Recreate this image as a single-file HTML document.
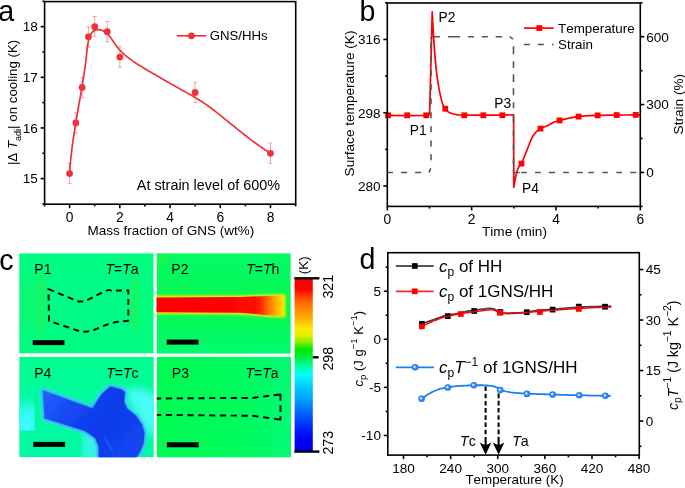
<!DOCTYPE html>
<html><head><meta charset="utf-8"><style>
html,body{margin:0;padding:0;background:#fff;}
svg{display:block;}
.r{will-change:transform;}
text{font-family:"Liberation Sans",sans-serif;fill:#000;font-kerning:none;}
</style></head><body>
<svg class="r" width="685" height="488" viewBox="0 0 685 488" font-family="Liberation Sans, sans-serif">
<rect width="685" height="488" fill="#fff"/>
<line x1="40.60" y1="178.60" x2="44.60" y2="178.60" stroke="#000" stroke-width="1.6" />
<text x="37.90" y="183.40" font-size="13.6" text-anchor="end" >15</text>
<line x1="40.60" y1="127.95" x2="44.60" y2="127.95" stroke="#000" stroke-width="1.6" />
<text x="37.90" y="132.75" font-size="13.6" text-anchor="end" >16</text>
<line x1="40.60" y1="77.30" x2="44.60" y2="77.30" stroke="#000" stroke-width="1.6" />
<text x="37.90" y="82.10" font-size="13.6" text-anchor="end" >17</text>
<line x1="40.60" y1="26.65" x2="44.60" y2="26.65" stroke="#000" stroke-width="1.6" />
<text x="37.90" y="31.45" font-size="13.6" text-anchor="end" >18</text>
<line x1="42.40" y1="203.92" x2="44.60" y2="203.92" stroke="#000" stroke-width="1.6" />
<line x1="42.40" y1="153.28" x2="44.60" y2="153.28" stroke="#000" stroke-width="1.6" />
<line x1="42.40" y1="102.62" x2="44.60" y2="102.62" stroke="#000" stroke-width="1.6" />
<line x1="42.40" y1="51.97" x2="44.60" y2="51.97" stroke="#000" stroke-width="1.6" />
<line x1="42.40" y1="1.32" x2="44.60" y2="1.32" stroke="#000" stroke-width="1.6" />
<line x1="69.60" y1="204.20" x2="69.60" y2="208.20" stroke="#000" stroke-width="1.6" />
<text x="69.60" y="221.50" font-size="13.8" text-anchor="middle" >0</text>
<line x1="119.82" y1="204.20" x2="119.82" y2="208.20" stroke="#000" stroke-width="1.6" />
<text x="119.82" y="221.50" font-size="13.8" text-anchor="middle" >2</text>
<line x1="170.04" y1="204.20" x2="170.04" y2="208.20" stroke="#000" stroke-width="1.6" />
<text x="170.04" y="221.50" font-size="13.8" text-anchor="middle" >4</text>
<line x1="220.26" y1="204.20" x2="220.26" y2="208.20" stroke="#000" stroke-width="1.6" />
<text x="220.26" y="221.50" font-size="13.8" text-anchor="middle" >6</text>
<line x1="270.48" y1="204.20" x2="270.48" y2="208.20" stroke="#000" stroke-width="1.6" />
<text x="270.48" y="221.50" font-size="13.8" text-anchor="middle" >8</text>
<line x1="44.49" y1="204.20" x2="44.49" y2="206.40" stroke="#000" stroke-width="1.6" />
<line x1="94.71" y1="204.20" x2="94.71" y2="206.40" stroke="#000" stroke-width="1.6" />
<line x1="144.93" y1="204.20" x2="144.93" y2="206.40" stroke="#000" stroke-width="1.6" />
<line x1="195.15" y1="204.20" x2="195.15" y2="206.40" stroke="#000" stroke-width="1.6" />
<line x1="245.37" y1="204.20" x2="245.37" y2="206.40" stroke="#000" stroke-width="1.6" />
<line x1="295.59" y1="204.20" x2="295.59" y2="206.40" stroke="#000" stroke-width="1.6" />
<rect x="44.6" y="1.6" width="251.1" height="202.6" fill="none" stroke="#000" stroke-width="1.6"/>
<line x1="69.60" y1="163.41" x2="69.60" y2="183.66" stroke="#f4a3a6" stroke-width="1" />
<line x1="67.60" y1="163.41" x2="71.60" y2="163.41" stroke="#f4a3a6" stroke-width="1" />
<line x1="67.60" y1="183.66" x2="71.60" y2="183.66" stroke="#f4a3a6" stroke-width="1" />
<line x1="75.88" y1="112.75" x2="75.88" y2="133.01" stroke="#f4a3a6" stroke-width="1" />
<line x1="73.88" y1="112.75" x2="77.88" y2="112.75" stroke="#f4a3a6" stroke-width="1" />
<line x1="73.88" y1="133.01" x2="77.88" y2="133.01" stroke="#f4a3a6" stroke-width="1" />
<line x1="82.16" y1="77.30" x2="82.16" y2="97.56" stroke="#f4a3a6" stroke-width="1" />
<line x1="80.16" y1="77.30" x2="84.16" y2="77.30" stroke="#f4a3a6" stroke-width="1" />
<line x1="80.16" y1="97.56" x2="84.16" y2="97.56" stroke="#f4a3a6" stroke-width="1" />
<line x1="88.43" y1="26.65" x2="88.43" y2="46.91" stroke="#f4a3a6" stroke-width="1" />
<line x1="86.43" y1="26.65" x2="90.43" y2="26.65" stroke="#f4a3a6" stroke-width="1" />
<line x1="86.43" y1="46.91" x2="90.43" y2="46.91" stroke="#f4a3a6" stroke-width="1" />
<line x1="94.71" y1="16.52" x2="94.71" y2="36.78" stroke="#f4a3a6" stroke-width="1" />
<line x1="92.71" y1="16.52" x2="96.71" y2="16.52" stroke="#f4a3a6" stroke-width="1" />
<line x1="92.71" y1="36.78" x2="96.71" y2="36.78" stroke="#f4a3a6" stroke-width="1" />
<line x1="107.26" y1="21.59" x2="107.26" y2="41.85" stroke="#f4a3a6" stroke-width="1" />
<line x1="105.26" y1="21.59" x2="109.26" y2="21.59" stroke="#f4a3a6" stroke-width="1" />
<line x1="105.26" y1="41.85" x2="109.26" y2="41.85" stroke="#f4a3a6" stroke-width="1" />
<line x1="119.82" y1="46.91" x2="119.82" y2="67.17" stroke="#f4a3a6" stroke-width="1" />
<line x1="117.82" y1="46.91" x2="121.82" y2="46.91" stroke="#f4a3a6" stroke-width="1" />
<line x1="117.82" y1="67.17" x2="121.82" y2="67.17" stroke="#f4a3a6" stroke-width="1" />
<line x1="195.15" y1="82.37" x2="195.15" y2="102.62" stroke="#f4a3a6" stroke-width="1" />
<line x1="193.15" y1="82.37" x2="197.15" y2="82.37" stroke="#f4a3a6" stroke-width="1" />
<line x1="193.15" y1="102.62" x2="197.15" y2="102.62" stroke="#f4a3a6" stroke-width="1" />
<line x1="270.48" y1="143.15" x2="270.48" y2="163.40" stroke="#f4a3a6" stroke-width="1" />
<line x1="268.48" y1="143.15" x2="272.48" y2="143.15" stroke="#f4a3a6" stroke-width="1" />
<line x1="268.48" y1="163.40" x2="272.48" y2="163.40" stroke="#f4a3a6" stroke-width="1" />
<path d="M69.59,173.60 L69.69,171.93 L69.80,170.27 L69.91,168.60 L70.04,166.94 L70.17,165.28 L70.32,163.62 L70.47,161.96 L70.62,160.30 L70.79,158.64 L70.96,156.99 L71.14,155.33 L71.33,153.68 L71.52,152.02 L71.72,150.37 L71.92,148.72 L72.13,147.07 L72.35,145.42 L72.57,143.77 L72.80,142.12 L73.04,140.47 L73.27,138.83 L73.51,137.18 L73.76,135.53 L74.01,133.89 L74.27,132.24 L74.53,130.60 L74.79,128.96 L75.05,127.31 L75.32,125.67 L75.59,124.03 L75.86,122.39 L76.14,120.75 L76.42,119.10 L76.70,117.46 L76.98,115.82 L77.26,114.18 L77.55,112.54 L77.83,110.90 L78.12,109.26 L78.40,107.62 L78.69,105.98 L78.98,104.34 L79.26,102.70 L79.55,101.06 L79.84,99.42 L80.12,97.79 L80.41,96.15 L80.69,94.51 L80.97,92.87 L81.25,91.23 L81.53,89.58 L81.81,87.94 L82.08,86.30 L82.35,84.66 L82.62,83.02 L82.88,81.38 L83.15,79.73 L83.40,78.09 L83.66,76.45 L83.91,74.80 L84.16,73.16 L84.40,71.51 L84.64,69.87 L84.87,68.22 L85.10,66.58 L85.32,64.93 L85.54,63.28 L85.75,61.63 L85.95,59.98 L86.15,58.33 L86.35,56.68 L86.53,55.03 L86.71,53.37 L86.89,51.72 L87.05,50.06 L87.22,48.41 L87.39,46.75 L87.60,45.10 L87.85,43.44 L88.16,41.79 L88.54,40.15 L89.00,38.50 L89.57,36.87 L90.25,35.27 L91.07,33.77 L92.04,32.43 L93.17,31.29 L94.46,30.42 L95.89,29.84 L97.42,29.55 L99.00,29.57 L100.59,29.89 L102.17,30.46 L103.69,31.23 L105.12,32.14 L106.44,33.17 L107.67,34.29 L108.82,35.49 L109.91,36.76 L110.94,38.08 L111.93,39.44 L112.89,40.83 L113.85,42.23 L114.80,43.63 L115.76,45.02 L116.76,46.37 L117.79,47.69 L118.86,48.96 L119.96,50.20 L121.10,51.40 L122.27,52.57 L123.47,53.70 L124.70,54.81 L125.96,55.88 L127.23,56.93 L128.54,57.95 L129.86,58.95 L131.20,59.93 L132.55,60.89 L133.92,61.83 L135.31,62.75 L136.70,63.67 L138.10,64.57 L139.51,65.46 L140.92,66.34 L142.34,67.22 L143.76,68.08 L145.19,68.94 L146.62,69.80 L148.05,70.65 L149.49,71.49 L150.93,72.33 L152.37,73.17 L153.81,74.00 L155.25,74.84 L156.70,75.67 L158.14,76.50 L159.58,77.33 L161.03,78.16 L162.47,78.99 L163.92,79.81 L165.36,80.64 L166.81,81.47 L168.25,82.29 L169.70,83.12 L171.14,83.94 L172.59,84.76 L174.04,85.58 L175.49,86.39 L176.93,87.21 L178.38,88.02 L179.83,88.84 L181.28,89.65 L182.74,90.46 L184.19,91.26 L185.64,92.07 L187.09,92.88 L188.54,93.69 L189.99,94.51 L191.43,95.33 L192.87,96.16 L194.30,97.00 L195.73,97.84 L197.15,98.70 L198.56,99.56 L199.97,100.44 L201.37,101.34 L202.76,102.25 L204.14,103.17 L205.51,104.11 L206.87,105.06 L208.22,106.03 L209.57,107.01 L210.91,108.00 L212.24,109.00 L213.57,110.01 L214.89,111.02 L216.21,112.05 L217.52,113.08 L218.83,114.12 L220.13,115.16 L221.44,116.20 L222.73,117.25 L224.03,118.30 L225.33,119.35 L226.62,120.40 L227.91,121.46 L229.21,122.51 L230.50,123.56 L231.79,124.61 L233.08,125.66 L234.38,126.71 L235.67,127.76 L236.97,128.80 L238.26,129.85 L239.56,130.89 L240.86,131.92 L242.16,132.96 L243.47,133.99 L244.77,135.01 L246.09,136.03 L247.40,137.05 L248.72,138.06 L250.04,139.07 L251.37,140.07 L252.70,141.06 L254.03,142.05 L255.38,143.03 L256.72,144.00 L258.08,144.97 L259.44,145.93 L260.80,146.88 L262.17,147.82 L263.55,148.75 L264.94,149.67 L266.33,150.59 L267.74,151.49 L269.15,152.38 L270.57,153.26" fill="none" stroke="#ee3338" stroke-width="1.7" stroke-linejoin="round"/>
<circle cx="69.60" cy="173.54" r="3.4" fill="#ee3338"/>
<circle cx="75.88" cy="122.88" r="3.4" fill="#ee3338"/>
<circle cx="82.16" cy="87.43" r="3.4" fill="#ee3338"/>
<circle cx="88.43" cy="36.78" r="3.4" fill="#ee3338"/>
<circle cx="94.71" cy="26.65" r="3.4" fill="#ee3338"/>
<circle cx="107.26" cy="31.72" r="3.4" fill="#ee3338"/>
<circle cx="119.82" cy="57.04" r="3.4" fill="#ee3338"/>
<circle cx="195.15" cy="92.50" r="3.4" fill="#ee3338"/>
<circle cx="270.48" cy="153.28" r="3.4" fill="#ee3338"/>
<line x1="176.70" y1="35.80" x2="206.30" y2="35.80" stroke="#ee3338" stroke-width="1.7" />
<circle cx="191.4" cy="35.8" r="3.4" fill="#ee3338"/>
<text x="209.80" y="39.50" font-size="13.2" text-anchor="start" >GNS/HHs</text>
<text x="136.80" y="189.70" font-size="14.4" text-anchor="start" >At strain level of 600%</text>
<text x="87.60" y="235.30" font-size="13.5" text-anchor="start" >Mass fraction of GNS (wt%)</text>
<text transform="translate(17.4,165.1) rotate(-90)" font-size="13.3">|<tspan>&#916;</tspan> <tspan font-style="italic">T</tspan><tspan font-size="9" dy="3.2">adi</tspan><tspan dy="-3.2">| on cooling (K)</tspan></text>
<text x="-1.80" y="20.60" font-size="28.6" text-anchor="start" >a</text>
<line x1="383.30" y1="186.04" x2="387.30" y2="186.04" stroke="#000" stroke-width="1.6" />
<text x="380.60" y="190.84" font-size="13.6" text-anchor="end" >280</text>
<line x1="383.30" y1="112.74" x2="387.30" y2="112.74" stroke="#000" stroke-width="1.6" />
<text x="380.60" y="117.54" font-size="13.6" text-anchor="end" >298</text>
<line x1="383.30" y1="39.45" x2="387.30" y2="39.45" stroke="#000" stroke-width="1.6" />
<text x="380.60" y="44.25" font-size="13.6" text-anchor="end" >316</text>
<line x1="385.10" y1="149.39" x2="387.30" y2="149.39" stroke="#000" stroke-width="1.6" />
<line x1="385.10" y1="76.10" x2="387.30" y2="76.10" stroke="#000" stroke-width="1.6" />
<line x1="385.10" y1="2.80" x2="387.30" y2="2.80" stroke="#000" stroke-width="1.6" />
<line x1="640.30" y1="172.45" x2="644.30" y2="172.45" stroke="#000" stroke-width="1.6" />
<text x="646.20" y="177.25" font-size="13.6" text-anchor="start" >0</text>
<line x1="640.30" y1="104.59" x2="644.30" y2="104.59" stroke="#000" stroke-width="1.6" />
<text x="646.20" y="109.39" font-size="13.6" text-anchor="start" >300</text>
<line x1="640.30" y1="36.73" x2="644.30" y2="36.73" stroke="#000" stroke-width="1.6" />
<text x="646.20" y="41.53" font-size="13.6" text-anchor="start" >600</text>
<line x1="640.30" y1="206.38" x2="642.50" y2="206.38" stroke="#000" stroke-width="1.6" />
<line x1="640.30" y1="138.52" x2="642.50" y2="138.52" stroke="#000" stroke-width="1.6" />
<line x1="640.30" y1="70.66" x2="642.50" y2="70.66" stroke="#000" stroke-width="1.6" />
<line x1="640.30" y1="2.80" x2="642.50" y2="2.80" stroke="#000" stroke-width="1.6" />
<line x1="387.30" y1="206.40" x2="387.30" y2="210.40" stroke="#000" stroke-width="1.6" />
<text x="387.30" y="223.80" font-size="13.8" text-anchor="middle" >0</text>
<line x1="471.64" y1="206.40" x2="471.64" y2="210.40" stroke="#000" stroke-width="1.6" />
<text x="471.64" y="223.80" font-size="13.8" text-anchor="middle" >2</text>
<line x1="555.98" y1="206.40" x2="555.98" y2="210.40" stroke="#000" stroke-width="1.6" />
<text x="555.98" y="223.80" font-size="13.8" text-anchor="middle" >4</text>
<line x1="640.32" y1="206.40" x2="640.32" y2="210.40" stroke="#000" stroke-width="1.6" />
<text x="640.32" y="223.80" font-size="13.8" text-anchor="middle" >6</text>
<line x1="429.47" y1="206.40" x2="429.47" y2="208.60" stroke="#000" stroke-width="1.6" />
<line x1="513.81" y1="206.40" x2="513.81" y2="208.60" stroke="#000" stroke-width="1.6" />
<line x1="598.15" y1="206.40" x2="598.15" y2="208.60" stroke="#000" stroke-width="1.6" />
<path d="M387.3,115.4 L405.8,115.6 L425.9,115.4 L429.6,114.6 L432.2,11.9 C433.0,28 434.5,55 436.5,72 C438.5,88 441,101 444.5,108.6 C447,112.5 452,114.2 458,114.8 L464.3,115.1 L502.5,115.2 L513.6,114.8 L513.8,187.2  C514.18,185.12 515.33,177.95 516.10,174.70 C516.87,171.45 517.53,169.50 518.40,167.70 C519.27,165.90 520.23,165.93 521.30,163.90 C522.37,161.87 523.63,158.35 524.80,155.50 C525.97,152.65 527.13,149.70 528.30,146.80 C529.47,143.90 530.63,140.42 531.80,138.10 C532.97,135.78 533.93,134.43 535.30,132.90 C536.67,131.37 538.12,130.07 540.00,128.90 C541.88,127.73 544.33,126.98 546.60,125.90 C548.87,124.82 551.42,123.33 553.60,122.40 C555.78,121.47 557.08,121.02 559.70,120.30 C562.32,119.58 566.20,118.72 569.30,118.10 C572.40,117.48 574.85,117.00 578.30,116.60 C581.75,116.20 586.75,115.90 590.00,115.70 C593.25,115.50 593.35,115.50 597.80,115.40 C602.25,115.30 610.37,115.18 616.70,115.10 C623.03,115.02 631.87,114.93 635.80,114.90 C639.73,114.87 639.55,114.90 640.30,114.90" fill="none" stroke="#ff0000" stroke-width="1.7" stroke-linejoin="round"/>
<path d="M387.4,172.5 L393.0,172.5 M401.1,172.5 L407.1,172.5 M415.1,172.5 L421.1,172.5 M429.0,172.4 L430.8,168.4 M431.0,160.2 L431.0,154.2 M431.0,146.4 L431.0,140.4 M431.0,132.2 L431.0,126.2 M431.0,118.2 L431.0,112.2 M431.0,104.2 L431.0,98.2 M431.0,90.2 L431.0,84.2 M431.0,76.2 L431.0,70.2 M431.0,62.2 L431.0,56.2 M431.0,48.2 L431.0,42.2 M431.0,38.6 L431.0,36.8 M431.0,36.8 L433.0,36.8 M433.9,36.8 L439.9,36.8 M448.1,36.8 L460.0,36.8 M468.1,36.8 L474.0,36.8 M481.9,36.8 L487.8,36.8 M495.7,36.8 L502.0,36.8 M509.6,36.7 L513.1,39.2 M513.5,46.3 L513.5,54.2 M513.5,61.2 L513.5,68.1 M513.5,74.2 L513.5,82.1 M513.5,88.2 L513.5,95.2 M513.5,102.2 L513.5,108.3 M513.5,116.2 L513.5,122.2 M513.5,130.2 L513.5,136.2 M513.5,144.2 L513.5,150.2 M513.5,158.2 L513.5,164.2 M513.5,169.5 L513.5,172.5 M513.5,172.5 L514.6,172.5 M514.6,172.5 L519.7,172.5 M521.2,172.5 L526.9,172.5 M535.0,172.5 L540.7,172.5 M548.8,172.5 L555.0,172.5 M563.1,172.5 L568.8,172.5 M577.0,172.5 L582.7,172.5 M588.3,172.5 L593.9,172.5 M602.4,172.5 L607.9,172.5 M616.4,172.5 L622.0,172.5 M630.2,172.5 L636.3,172.5" fill="none" stroke="#555" stroke-width="1.6"/>
<rect x="385.20" y="112.40" width="5.8" height="5.8" fill="#ff0000"/>
<rect x="404.25" y="112.40" width="5.8" height="5.8" fill="#ff0000"/>
<rect x="423.30" y="112.40" width="5.8" height="5.8" fill="#ff0000"/>
<rect x="442.35" y="105.80" width="5.8" height="5.8" fill="#ff0000"/>
<rect x="461.40" y="112.40" width="5.8" height="5.8" fill="#ff0000"/>
<rect x="480.45" y="112.40" width="5.8" height="5.8" fill="#ff0000"/>
<rect x="499.50" y="112.40" width="5.8" height="5.8" fill="#ff0000"/>
<rect x="518.55" y="160.70" width="5.8" height="5.8" fill="#ff0000"/>
<rect x="537.60" y="125.70" width="5.8" height="5.8" fill="#ff0000"/>
<rect x="556.65" y="117.50" width="5.8" height="5.8" fill="#ff0000"/>
<rect x="575.70" y="113.70" width="5.8" height="5.8" fill="#ff0000"/>
<rect x="594.75" y="112.50" width="5.8" height="5.8" fill="#ff0000"/>
<rect x="613.80" y="112.20" width="5.8" height="5.8" fill="#ff0000"/>
<rect x="632.85" y="112.00" width="5.8" height="5.8" fill="#ff0000"/>
<rect x="387.3" y="3.0" width="252.99999999999994" height="203.4" fill="none" stroke="#000" stroke-width="1.6"/>
<line x1="523.90" y1="28.10" x2="553.60" y2="28.10" stroke="#ff0000" stroke-width="1.7" />
<rect x="536.4" y="25.200000000000003" width="5.8" height="5.8" fill="#ff0000"/>
<text x="558.00" y="33.00" font-size="13.4" text-anchor="start" >Temperature</text>
<line x1="523.90" y1="44.40" x2="553.60" y2="44.40" stroke="#555" stroke-width="1.5" stroke-dasharray="6,8"/>
<text x="558.00" y="48.80" font-size="13.4" text-anchor="start" >Strain</text>
<text x="438.60" y="21.50" font-size="13.8" text-anchor="start" >P2</text>
<text x="409.80" y="134.80" font-size="13.8" text-anchor="start" >P1</text>
<text x="494.30" y="107.80" font-size="13.8" text-anchor="start" >P3</text>
<text x="522.00" y="193.10" font-size="13.8" text-anchor="start" >P4</text>
<text x="482.00" y="235.70" font-size="13.6" text-anchor="start" >Time (min)</text>
<text transform="translate(353.9,176.4) rotate(-90)" font-size="13.6">Surface temperature (K)</text>
<text transform="translate(682.8,134.4) rotate(-90)" font-size="13.6">Strain (%)</text>
<text x="359.50" y="21.00" font-size="28.6" text-anchor="start" >b</text>
<text x="-0.80" y="270.00" font-size="28.6" text-anchor="start" >c</text>
<defs><filter id="b05" x="-20%" y="-20%" width="140%" height="140%"><feGaussianBlur stdDeviation="0.5"/></filter><filter id="b1" x="-20%" y="-20%" width="140%" height="140%"><feGaussianBlur stdDeviation="1"/></filter><filter id="b2" x="-30%" y="-30%" width="160%" height="160%"><feGaussianBlur stdDeviation="2"/></filter><filter id="b4" x="-50%" y="-50%" width="200%" height="200%"><feGaussianBlur stdDeviation="4"/></filter><linearGradient id="rg" gradientUnits="userSpaceOnUse" x1="156" y1="0" x2="285.4" y2="0"><stop offset="0" stop-color="#ff0000"/><stop offset="0.76" stop-color="#ff0800"/><stop offset="0.82" stop-color="#ff3000"/><stop offset="0.88" stop-color="#ff8000"/><stop offset="0.93" stop-color="#ffb000"/><stop offset="0.97" stop-color="#ffd800"/><stop offset="1" stop-color="#ffe800"/></linearGradient></defs>
<clipPath id="c1"><rect x="19.2" y="253.2" width="134.5" height="100.3"/></clipPath>
<g clip-path="url(#c1)">
<rect x="19.2" y="253.2" width="134.5" height="100.3" fill="#00fc80"/>
<rect x="22" y="278" width="22" height="52" fill="#22f058" opacity="0.35" filter="url(#b4)"/>
<rect x="39" y="277" width="7" height="56" fill="#30f050" opacity="0.45" filter="url(#b2)"/>
<rect x="131" y="277" width="7" height="56" fill="#30f048" opacity="0.55" filter="url(#b2)"/>
<rect x="50" y="276" width="78" height="60" fill="#00fa96" opacity="0.35" filter="url(#b4)"/>
</g>
<clipPath id="c2"><rect x="156.6" y="253.2" width="134.2" height="100.6"/></clipPath>
<g clip-path="url(#c2)">
<linearGradient id="p2g" x1="0" y1="0" x2="0" y2="1"><stop offset="0" stop-color="#02fb66"/><stop offset="0.3" stop-color="#06f95a"/><stop offset="0.5" stop-color="#0cf74e"/><stop offset="0.72" stop-color="#04f95c"/><stop offset="1" stop-color="#00fb6e"/></linearGradient><rect x="156.6" y="253.2" width="134.2" height="100.6" fill="url(#p2g)"/><circle cx="160" cy="257" r="9" fill="#40f030" opacity="0.5" filter="url(#b4)"/>
<path d="M150,295.6 L240,295.4 L270,294.4 L284.0,293.9 L285.4,295.2 L285.4,316.6 L284.0,317.6 L270,316.9 L240,314.4 L150,314.0 Z" fill="#f0f000" filter="url(#b1)"/>
<path d="M150,297.4 L240,297.0 L268,295.9 L283.4,295.4 L283.4,316.0 L268,315.3 L240,312.7 L150,312.2 Z" fill="url(#rg)" filter="url(#b05)"/>
</g>
<clipPath id="c4"><rect x="19.2" y="356.7" width="134.6" height="100.6"/></clipPath>
<g clip-path="url(#c4)">
<linearGradient id="p4g" x1="0" y1="0" x2="0" y2="1"><stop offset="0" stop-color="#00fd8e"/><stop offset="0.35" stop-color="#00fb9c"/><stop offset="1" stop-color="#00f9a2"/></linearGradient><rect x="19.2" y="356.7" width="134.6" height="100.6" fill="url(#p4g)"/>
<linearGradient id="cg" x1="0" y1="0" x2="0" y2="1"><stop offset="0" stop-color="#20f8c8" stop-opacity="0"/><stop offset="0.45" stop-color="#30faf0"/><stop offset="1" stop-color="#40fcff"/></linearGradient><rect x="15" y="394" width="19.6" height="36.5" fill="url(#cg)" filter="url(#b05)"/>
<path d="M124,390 L142,388 L158,396 L158,434 L146,434 L136,414 Z" fill="#48fcf8" filter="url(#b4)"/>
<path d="M82,432 L100,434 L100,460 L82,460 Z" fill="#38f6ea" opacity="0.85" filter="url(#b2)"/>
<path d="M43,390.4 L92.5,408.6 L95.2,403.9 L102,393.7 L110.5,386.6 L121.5,389.4 L124.9,392 L124.1,402.2 L127.5,409 L136,415.8 L141.9,424.3 L144.5,432.8 L143.6,443 L140.2,451.5 L136,458 L98.6,458 L98.6,446.4 L95.2,437.9 L85,431 L44.6,418.3 Z" fill="#40c8ff" stroke="#40d8ff" stroke-width="4" filter="url(#b2)"/>
<path d="M43,390.4 L92.5,408.6 L95.2,403.9 L102,393.7 L110.5,386.6 L121.5,389.4 L124.9,392 L124.1,402.2 L127.5,409 L136,415.8 L141.9,424.3 L144.5,432.8 L143.6,443 L140.2,451.5 L136,458 L98.6,458 L98.6,446.4 L95.2,437.9 L85,431 L44.6,418.3 Z" fill="#3c7cff" stroke="#3c7cff" stroke-width="1.6" filter="url(#b1)"/>
<linearGradient id="blg" gradientUnits="userSpaceOnUse" x1="45" y1="392" x2="120" y2="450"><stop offset="0" stop-color="#2260fa"/><stop offset="0.35" stop-color="#1448f2"/><stop offset="0.7" stop-color="#0c3ae8"/><stop offset="1" stop-color="#1244ee"/></linearGradient>
<path d="M43,390.4 L92.5,408.6 L95.2,403.9 L102,393.7 L110.5,386.6 L121.5,389.4 L124.9,392 L124.1,402.2 L127.5,409 L136,415.8 L141.9,424.3 L144.5,432.8 L143.6,443 L140.2,451.5 L136,458 L98.6,458 L98.6,446.4 L95.2,437.9 L85,431 L44.6,418.3 Z" fill="url(#blg)" filter="url(#b05)"/>
<path d="M104,436 L113,452" stroke="#3070ff" stroke-width="1.5" opacity="0.6" filter="url(#b05)"/>
</g>
<clipPath id="c3"><rect x="156.7" y="356.8" width="134.3" height="100.7"/></clipPath>
<g clip-path="url(#c3)">
<linearGradient id="p3g" x1="0" y1="0" x2="1" y2="0"><stop offset="0" stop-color="#00fb54"/><stop offset="0.6" stop-color="#00fb5c"/><stop offset="1" stop-color="#00fa74"/></linearGradient><rect x="156.7" y="356.8" width="134.3" height="100.7" fill="url(#p3g)"/>
</g>
<path d="M48.5,289.1 L78.5,301.5 L84.5,301.5 L104.2,291.4 L108.6,289.9 L113.7,291 L119.6,290.5 L128.3,290.5 L128.3,320.6 L116,322 L105.7,325 L92,330.6 L86,331.8 L80,331.4 L49,320.9 Z" fill="none" stroke="#000" stroke-width="1.9" stroke-dasharray="6,4.4"/>
<path d="M156.7,398.5 L252.8,397.9 L270.5,395.6" fill="none" stroke="#000" stroke-width="1.9" stroke-dasharray="6.2,4.6" stroke-dashoffset="1.6"/>
<path d="M156.7,414.9 L252.8,415.8 L270.5,418.2" fill="none" stroke="#000" stroke-width="1.9" stroke-dasharray="6.2,4.6" stroke-dashoffset="1.6"/>
<path d="M273.6,395.3 L280.5,394.5 L280.5,419.6 L273.6,418.7" fill="none" stroke="#000" stroke-width="1.9" stroke-dasharray="13.1,4.7,6.6,4.3,10,10" stroke-linejoin="round"/>
<rect x="32.7" y="340.1" width="31.8" height="5" fill="#000"/>
<rect x="166.7" y="339.6" width="31.8" height="5" fill="#000"/>
<rect x="33.3" y="441.90000000000003" width="31.8" height="5" fill="#000"/>
<rect x="166.9" y="442.3" width="31.8" height="5" fill="#000"/>
<text x="34.30" y="274.00" font-size="14" text-anchor="start" >P1</text>
<text x="171.30" y="274.00" font-size="14" text-anchor="start" >P2</text>
<text x="34.20" y="377.60" font-size="14" text-anchor="start" >P4</text>
<text x="171.80" y="377.50" font-size="14" text-anchor="start" >P3</text>
<text x="105.4" y="274.0" font-size="14"><tspan font-style="italic">T</tspan>=<tspan font-style="italic">T</tspan>a</text>
<text x="246.3" y="274.0" font-size="14"><tspan font-style="italic">T</tspan>=<tspan font-style="italic">T</tspan>h</text>
<text x="106.2" y="377.6" font-size="14"><tspan font-style="italic">T</tspan>=<tspan font-style="italic">T</tspan>c</text>
<text x="245.5" y="377.5" font-size="14"><tspan font-style="italic">T</tspan>=<tspan font-style="italic">T</tspan>a</text>
<defs><linearGradient id="cb" x1="0" y1="0" x2="0" y2="1"><stop offset="0" stop-color="#ff0000"/><stop offset="0.06" stop-color="#ff0000"/><stop offset="0.13" stop-color="#ff6000"/><stop offset="0.19" stop-color="#ff9000"/><stop offset="0.24" stop-color="#ffb800"/><stop offset="0.29" stop-color="#ffe800"/><stop offset="0.33" stop-color="#e0f000"/><stop offset="0.37" stop-color="#80f000"/><stop offset="0.41" stop-color="#00e800"/><stop offset="0.46" stop-color="#00ee40"/><stop offset="0.51" stop-color="#00ffb0"/><stop offset="0.555" stop-color="#00ffff"/><stop offset="0.625" stop-color="#00ccff"/><stop offset="0.7" stop-color="#00a0ff"/><stop offset="0.76" stop-color="#0070ff"/><stop offset="0.87" stop-color="#0020ff"/><stop offset="0.94" stop-color="#0000f0"/><stop offset="1" stop-color="#0000e8"/></linearGradient></defs>
<rect x="294.6" y="278.3" width="18.2" height="173.3" fill="url(#cb)"/>
<line x1="294.30" y1="278.30" x2="319.40" y2="278.30" stroke="#000" stroke-width="2.4" />
<line x1="294.30" y1="451.60" x2="319.40" y2="451.60" stroke="#000" stroke-width="2.4" />
<line x1="312.80" y1="357.30" x2="318.60" y2="357.30" stroke="#000" stroke-width="2.4" />
<text transform="translate(332.9,298.6) rotate(-90)" font-size="14.2">321</text>
<text transform="translate(332.9,370.6) rotate(-90)" font-size="14.2">298</text>
<text transform="translate(332.9,454.6) rotate(-90)" font-size="14.2">273</text>
<text transform="translate(308.2,274.2) rotate(-90)" font-size="13.4">(K)</text>
<line x1="383.80" y1="291.18" x2="387.80" y2="291.18" stroke="#000" stroke-width="1.6" />
<text x="381.00" y="295.98" font-size="13.6" text-anchor="end" >5</text>
<line x1="383.80" y1="339.28" x2="387.80" y2="339.28" stroke="#000" stroke-width="1.6" />
<text x="381.00" y="344.08" font-size="13.6" text-anchor="end" >0</text>
<line x1="383.80" y1="387.38" x2="387.80" y2="387.38" stroke="#000" stroke-width="1.6" />
<text x="381.00" y="392.18" font-size="13.6" text-anchor="end" >-5</text>
<line x1="383.80" y1="435.48" x2="387.80" y2="435.48" stroke="#000" stroke-width="1.6" />
<text x="381.00" y="440.28" font-size="13.6" text-anchor="end" >-10</text>
<line x1="385.60" y1="267.13" x2="387.80" y2="267.13" stroke="#000" stroke-width="1.6" />
<line x1="385.60" y1="315.23" x2="387.80" y2="315.23" stroke="#000" stroke-width="1.6" />
<line x1="385.60" y1="363.33" x2="387.80" y2="363.33" stroke="#000" stroke-width="1.6" />
<line x1="385.60" y1="411.43" x2="387.80" y2="411.43" stroke="#000" stroke-width="1.6" />
<line x1="639.30" y1="269.53" x2="643.30" y2="269.53" stroke="#000" stroke-width="1.6" />
<text x="645.80" y="274.33" font-size="13.6" text-anchor="start" >45</text>
<line x1="639.30" y1="320.04" x2="643.30" y2="320.04" stroke="#000" stroke-width="1.6" />
<text x="645.80" y="324.84" font-size="13.6" text-anchor="start" >30</text>
<line x1="639.30" y1="370.54" x2="643.30" y2="370.54" stroke="#000" stroke-width="1.6" />
<text x="645.80" y="375.34" font-size="13.6" text-anchor="start" >15</text>
<line x1="639.30" y1="421.05" x2="643.30" y2="421.05" stroke="#000" stroke-width="1.6" />
<text x="645.80" y="425.85" font-size="13.6" text-anchor="start" >0</text>
<line x1="639.30" y1="294.79" x2="641.50" y2="294.79" stroke="#000" stroke-width="1.6" />
<line x1="639.30" y1="345.29" x2="641.50" y2="345.29" stroke="#000" stroke-width="1.6" />
<line x1="639.30" y1="395.80" x2="641.50" y2="395.80" stroke="#000" stroke-width="1.6" />
<line x1="639.30" y1="446.30" x2="641.50" y2="446.30" stroke="#000" stroke-width="1.6" />
<line x1="403.51" y1="455.10" x2="403.51" y2="459.10" stroke="#000" stroke-width="1.6" />
<text x="403.51" y="472.50" font-size="13.6" text-anchor="middle" >180</text>
<line x1="450.62" y1="455.10" x2="450.62" y2="459.10" stroke="#000" stroke-width="1.6" />
<text x="450.62" y="472.50" font-size="13.6" text-anchor="middle" >240</text>
<line x1="497.74" y1="455.10" x2="497.74" y2="459.10" stroke="#000" stroke-width="1.6" />
<text x="497.74" y="472.50" font-size="13.6" text-anchor="middle" >300</text>
<line x1="544.86" y1="455.10" x2="544.86" y2="459.10" stroke="#000" stroke-width="1.6" />
<text x="544.86" y="472.50" font-size="13.6" text-anchor="middle" >360</text>
<line x1="591.98" y1="455.10" x2="591.98" y2="459.10" stroke="#000" stroke-width="1.6" />
<text x="591.98" y="472.50" font-size="13.6" text-anchor="middle" >420</text>
<line x1="639.10" y1="455.10" x2="639.10" y2="459.10" stroke="#000" stroke-width="1.6" />
<text x="639.10" y="472.50" font-size="13.6" text-anchor="middle" >480</text>
<line x1="427.06" y1="455.10" x2="427.06" y2="457.30" stroke="#000" stroke-width="1.6" />
<line x1="474.18" y1="455.10" x2="474.18" y2="457.30" stroke="#000" stroke-width="1.6" />
<line x1="521.30" y1="455.10" x2="521.30" y2="457.30" stroke="#000" stroke-width="1.6" />
<line x1="568.42" y1="455.10" x2="568.42" y2="457.30" stroke="#000" stroke-width="1.6" />
<line x1="615.54" y1="455.10" x2="615.54" y2="457.30" stroke="#000" stroke-width="1.6" />
<path d="M421.90,323.69 L423.13,323.29 L424.36,322.89 L425.58,322.48 L426.81,322.06 L428.03,321.64 L429.25,321.22 L430.47,320.79 L431.69,320.36 L432.91,319.93 L434.13,319.49 L435.35,319.06 L436.57,318.62 L437.79,318.19 L439.00,317.75 L440.23,317.32 L441.45,316.89 L442.67,316.47 L443.90,316.06 L445.14,315.68 L446.38,315.34 L447.64,315.04 L448.90,314.81 L450.18,314.61 L451.46,314.45 L452.75,314.30 L454.04,314.14 L455.32,313.97 L456.60,313.76 L457.87,313.50 L459.13,313.22 L460.39,312.92 L461.65,312.61 L462.91,312.30 L464.16,312.00 L465.43,311.71 L466.69,311.46 L467.96,311.22 L469.23,311.00 L470.50,310.79 L471.78,310.60 L473.06,310.42 L474.34,310.24 L475.62,310.06 L476.90,309.89 L478.19,309.71 L479.47,309.54 L480.76,309.36 L482.05,309.18 L483.35,309.02 L484.65,308.86 L485.95,308.71 L487.26,308.58 L488.56,308.50 L489.85,308.48 L491.12,308.53 L492.37,308.70 L493.58,308.98 L494.76,309.41 L495.89,309.99 L497.00,310.67 L498.11,311.35 L499.24,311.97 L500.41,312.47 L501.63,312.82 L502.88,313.03 L504.17,313.14 L505.47,313.19 L506.78,313.19 L508.09,313.16 L509.40,313.11 L510.72,313.06 L512.02,313.02 L513.32,312.99 L514.62,312.95 L515.91,312.92 L517.20,312.89 L518.48,312.84 L519.77,312.78 L521.05,312.69 L522.33,312.59 L523.61,312.46 L524.89,312.31 L526.17,312.13 L527.45,311.95 L528.73,311.75 L530.01,311.55 L531.29,311.35 L532.57,311.15 L533.86,310.96 L535.14,310.78 L536.43,310.62 L537.71,310.47 L539.00,310.33 L540.29,310.21 L541.57,310.09 L542.86,309.99 L544.15,309.89 L545.44,309.79 L546.73,309.70 L548.02,309.62 L549.31,309.53 L550.61,309.44 L551.90,309.35 L553.19,309.26 L554.48,309.16 L555.77,309.06 L557.05,308.95 L558.34,308.84 L559.63,308.73 L560.92,308.62 L562.21,308.51 L563.50,308.39 L564.79,308.28 L566.08,308.17 L567.37,308.06 L568.66,307.95 L569.95,307.84 L571.23,307.73 L572.52,307.63 L573.81,307.53 L575.10,307.44 L576.39,307.35 L577.68,307.27 L578.98,307.19 L580.27,307.12 L581.56,307.05 L582.85,306.99 L584.14,306.94 L585.43,306.89 L586.73,306.84 L588.02,306.80 L589.31,306.76 L590.61,306.73 L591.90,306.69 L593.19,306.66 L594.49,306.63 L595.78,306.61 L597.07,306.58 L598.37,306.55 L599.66,306.52 L600.95,306.50 L602.25,306.47 L603.54,306.44 L604.84,306.40 L606.13,306.37 L607.42,306.33 L608.71,306.29 L610.01,306.25 L611.30,306.20" fill="none" stroke="#444" stroke-width="1.8"/>
<rect x="419.05" y="321.05" width="5.7" height="5.7" fill="#000"/>
<rect x="444.95" y="313.25" width="5.7" height="5.7" fill="#000"/>
<rect x="471.35" y="308.15" width="5.7" height="5.7" fill="#000"/>
<rect x="497.45" y="309.15" width="5.7" height="5.7" fill="#000"/>
<rect x="523.95" y="309.35" width="5.7" height="5.7" fill="#000"/>
<rect x="549.75" y="306.75" width="5.7" height="5.7" fill="#000"/>
<rect x="575.95" y="303.75" width="5.7" height="5.7" fill="#000"/>
<rect x="602.15" y="303.85" width="5.7" height="5.7" fill="#000"/>
<path d="M421.89,326.18 L423.08,325.67 L424.26,325.16 L425.44,324.64 L426.62,324.11 L427.81,323.58 L428.99,323.06 L430.17,322.53 L431.36,322.00 L432.55,321.48 L433.74,320.97 L434.93,320.47 L436.13,319.98 L437.34,319.51 L438.55,319.05 L439.76,318.61 L440.98,318.18 L442.21,317.78 L443.45,317.40 L444.69,317.05 L445.93,316.71 L447.19,316.38 L448.44,316.08 L449.70,315.78 L450.97,315.51 L452.23,315.24 L453.50,314.99 L454.77,314.74 L456.05,314.51 L457.32,314.28 L458.59,314.07 L459.87,313.85 L461.14,313.65 L462.42,313.45 L463.70,313.26 L464.98,313.07 L466.25,312.88 L467.53,312.70 L468.81,312.52 L470.09,312.35 L471.38,312.18 L472.66,312.01 L473.94,311.84 L475.22,311.67 L476.51,311.50 L477.79,311.33 L479.08,311.16 L480.36,310.99 L481.65,310.82 L482.94,310.64 L484.23,310.46 L485.51,310.28 L486.80,310.10 L488.09,309.94 L489.38,309.83 L490.66,309.79 L491.95,309.84 L493.23,310.01 L494.48,310.32 L495.67,310.81 L496.81,311.47 L497.92,312.13 L499.09,312.65 L500.30,313.02 L501.56,313.27 L502.84,313.45 L504.14,313.56 L505.45,313.64 L506.76,313.68 L508.06,313.70 L509.36,313.70 L510.65,313.67 L511.95,313.63 L513.24,313.57 L514.53,313.49 L515.82,313.41 L517.11,313.31 L518.39,313.21 L519.68,313.09 L520.97,312.98 L522.25,312.86 L523.54,312.75 L524.83,312.63 L526.11,312.52 L527.40,312.40 L528.69,312.29 L529.98,312.18 L531.26,312.06 L532.55,311.95 L533.84,311.84 L535.13,311.73 L536.42,311.62 L537.70,311.51 L538.99,311.40 L540.28,311.29 L541.57,311.19 L542.86,311.08 L544.15,310.97 L545.44,310.87 L546.73,310.76 L548.02,310.66 L549.30,310.56 L550.59,310.46 L551.88,310.36 L553.17,310.26 L554.46,310.16 L555.75,310.06 L557.04,309.96 L558.34,309.87 L559.63,309.77 L560.92,309.68 L562.21,309.59 L563.50,309.49 L564.79,309.40 L566.08,309.31 L567.37,309.23 L568.66,309.14 L569.95,309.05 L571.24,308.97 L572.54,308.88 L573.83,308.80 L575.12,308.72 L576.41,308.64 L577.70,308.56 L578.99,308.49 L580.29,308.41 L581.58,308.34 L582.87,308.26 L584.16,308.19 L585.45,308.12 L586.75,308.05 L588.04,307.98 L589.33,307.92 L590.62,307.85 L591.91,307.79 L593.21,307.73 L594.50,307.67 L595.79,307.61 L597.08,307.56 L598.38,307.50 L599.67,307.45 L600.96,307.40 L602.25,307.35 L603.55,307.30 L604.84,307.25 L606.13,307.21 L607.42,307.16 L608.72,307.12 L610.01,307.08 L611.30,307.04" fill="none" stroke="#ff0000" stroke-width="1.4"/>
<rect x="419.05" y="323.55" width="5.7" height="5.7" fill="#ff0000"/>
<rect x="457.95" y="311.15" width="5.7" height="5.7" fill="#ff0000"/>
<rect x="497.45" y="309.95" width="5.7" height="5.7" fill="#ff0000"/>
<rect x="537.05" y="309.15" width="5.7" height="5.7" fill="#ff0000"/>
<rect x="575.95" y="306.05" width="5.7" height="5.7" fill="#ff0000"/>
<path d="M421.60,398.60 L422.67,397.87 L423.74,397.15 L424.83,396.43 L425.92,395.72 L427.01,395.02 L428.12,394.34 L429.24,393.67 L430.37,393.03 L431.51,392.41 L432.67,391.82 L433.83,391.25 L435.02,390.72 L436.21,390.23 L437.43,389.77 L438.65,389.36 L439.89,388.98 L441.15,388.63 L442.41,388.32 L443.68,388.03 L444.96,387.77 L446.24,387.53 L447.53,387.31 L448.81,387.10 L450.10,386.92 L451.38,386.74 L452.67,386.58 L453.96,386.44 L455.24,386.31 L456.53,386.19 L457.82,386.08 L459.11,385.98 L460.40,385.89 L461.69,385.81 L462.99,385.74 L464.28,385.68 L465.58,385.62 L466.87,385.56 L468.17,385.52 L469.47,385.47 L470.77,385.43 L472.07,385.40 L473.37,385.36 L474.67,385.33 L475.98,385.30 L477.28,385.27 L478.59,385.25 L479.90,385.24 L481.20,385.25 L482.50,385.26 L483.80,385.30 L485.10,385.35 L486.40,385.42 L487.69,385.52 L488.98,385.64 L490.26,385.79 L491.54,385.97 L492.82,386.18 L494.08,386.44 L495.30,386.81 L496.48,387.33 L497.60,387.99 L498.71,388.70 L499.83,389.38 L501.00,389.95 L502.20,390.42 L503.43,390.82 L504.67,391.15 L505.93,391.45 L507.20,391.72 L508.47,391.96 L509.74,392.17 L511.02,392.37 L512.30,392.54 L513.58,392.70 L514.87,392.84 L516.16,392.96 L517.46,393.07 L518.75,393.16 L520.05,393.25 L521.35,393.32 L522.65,393.39 L523.95,393.45 L525.25,393.51 L526.55,393.56 L527.85,393.62 L529.15,393.67 L530.45,393.72 L531.75,393.78 L533.05,393.83 L534.35,393.88 L535.65,393.93 L536.95,393.98 L538.25,394.03 L539.54,394.07 L540.84,394.12 L542.14,394.17 L543.44,394.22 L544.74,394.26 L546.03,394.31 L547.33,394.35 L548.63,394.40 L549.93,394.44 L551.22,394.48 L552.52,394.53 L553.82,394.57 L555.11,394.61 L556.41,394.65 L557.71,394.69 L559.00,394.73 L560.30,394.77 L561.59,394.81 L562.89,394.85 L564.19,394.89 L565.48,394.92 L566.78,394.96 L568.08,395.00 L569.37,395.03 L570.67,395.07 L571.96,395.10 L573.26,395.14 L574.56,395.17 L575.85,395.20 L577.15,395.23 L578.44,395.27 L579.74,395.30 L581.04,395.33 L582.33,395.36 L583.63,395.39 L584.93,395.42 L586.23,395.45 L587.52,395.47 L588.82,395.50 L590.12,395.53 L591.41,395.56 L592.71,395.58 L594.01,395.61 L595.31,395.63 L596.61,395.66 L597.91,395.68 L599.20,395.70 L600.50,395.73 L601.80,395.75 L603.10,395.77 L604.40,395.79 L605.70,395.82 L607.00,395.84 L608.30,395.86 L609.61,395.88 L610.91,395.89" fill="none" stroke="#1a80f4" stroke-width="1.8"/>
<defs><radialGradient id="bg" cx="0.5" cy="0.5" fx="0.38" fy="0.4" r="0.5"><stop offset="0" stop-color="#ffffff"/><stop offset="0.2" stop-color="#cfe6ff"/><stop offset="0.45" stop-color="#3d95ff"/><stop offset="1" stop-color="#1474ee"/></radialGradient></defs>
<circle cx="421.6" cy="398.7" r="3.3" fill="url(#bg)"/>
<circle cx="447.8" cy="387.5" r="3.3" fill="url(#bg)"/>
<circle cx="473.8" cy="385.3" r="3.3" fill="url(#bg)"/>
<circle cx="500.2" cy="390.1" r="3.3" fill="url(#bg)"/>
<circle cx="526.9" cy="393.9" r="3.3" fill="url(#bg)"/>
<circle cx="552.7" cy="394.6" r="3.3" fill="url(#bg)"/>
<circle cx="579.2" cy="395.3" r="3.3" fill="url(#bg)"/>
<circle cx="605.4" cy="395.8" r="3.3" fill="url(#bg)"/>
<line x1="485.6" y1="386.5" x2="485.6" y2="446" stroke="#000" stroke-width="2" stroke-dasharray="4.6,2.6"/>
<line x1="485.6" y1="441" x2="485.6" y2="449" stroke="#000" stroke-width="2"/>
<path d="M479.8,442.6 L485.6,454.8 L491.40000000000003,442.6 L485.6,445.6 Z" fill="#000"/>
<line x1="498.6" y1="393.6" x2="498.6" y2="446" stroke="#000" stroke-width="2" stroke-dasharray="4.6,2.6"/>
<line x1="498.6" y1="441" x2="498.6" y2="449" stroke="#000" stroke-width="2"/>
<path d="M492.8,442.6 L498.6,454.8 L504.40000000000003,442.6 L498.6,445.6 Z" fill="#000"/>
<text x="460.0" y="445.5" font-size="14.2"><tspan font-style="italic">T</tspan>c</text>
<text x="512.2" y="445.5" font-size="14.2"><tspan font-style="italic">T</tspan>a</text>
<rect x="387.8" y="252.7" width="251.49999999999994" height="202.40000000000003" fill="none" stroke="#000" stroke-width="1.6"/>
<line x1="395.80" y1="266.00" x2="433.70" y2="266.00" stroke="#555" stroke-width="1.8" />
<rect x="411.95" y="263.15" width="5.7" height="5.7" fill="#000"/>
<line x1="395.80" y1="291.30" x2="433.70" y2="291.30" stroke="#ff2a2a" stroke-width="1.7" />
<rect x="411.95" y="288.45" width="5.7" height="5.7" fill="#ff0000"/>
<line x1="395.80" y1="367.30" x2="433.90" y2="367.30" stroke="#1a80f4" stroke-width="1.7" />
<circle cx="415.1" cy="367.3" r="3.3" fill="url(#bg)"/>
<text x="439.0" y="271.8" font-size="17"><tspan font-style="italic">c</tspan><tspan font-size="12" dy="4">p</tspan><tspan dy="-4"> of HH</tspan></text>
<text x="439.0" y="296.5" font-size="17"><tspan font-style="italic">c</tspan><tspan font-size="12" dy="4">p</tspan><tspan dy="-4"> of 1GNS/HH</tspan></text>
<text x="439.0" y="373.4" font-size="17"><tspan font-style="italic">c</tspan><tspan font-size="12" dy="4">p</tspan><tspan dy="-4" font-style="italic">T</tspan><tspan font-size="12" dy="-7">&#8722;1</tspan><tspan dy="7"> of 1GNS/HH</tspan></text>
<text x="465.40" y="484.30" font-size="13.4" text-anchor="start" >Temperature (K)</text>
<text transform="translate(363.2,386.4) rotate(-90)" font-size="13"><tspan font-style="italic">c</tspan><tspan font-size="9.5" dy="3">p</tspan><tspan dy="-3"> (J g</tspan><tspan font-size="9.5" dy="-6">&#8722;1</tspan><tspan dy="6"> K</tspan><tspan font-size="9.5" dy="-6">&#8722;1</tspan><tspan dy="6">)</tspan></text>
<text transform="translate(677.6,410.0) rotate(-90)" font-size="14.1"><tspan font-style="italic">c</tspan><tspan font-size="10.4" dy="3">p</tspan><tspan dy="-3" font-style="italic">T</tspan><tspan font-size="10.4" dy="-6.2">&#8722;1</tspan><tspan dy="6.2"> (J kg</tspan><tspan font-size="10.4" dy="-6.2">&#8722;1</tspan><tspan dy="6.2"> K</tspan><tspan font-size="10.4" dy="-6.2">&#8722;2</tspan><tspan dy="6.2">)</tspan></text>
<text x="359.40" y="268.90" font-size="28.6" text-anchor="start" >d</text>
</svg>
</body></html>
